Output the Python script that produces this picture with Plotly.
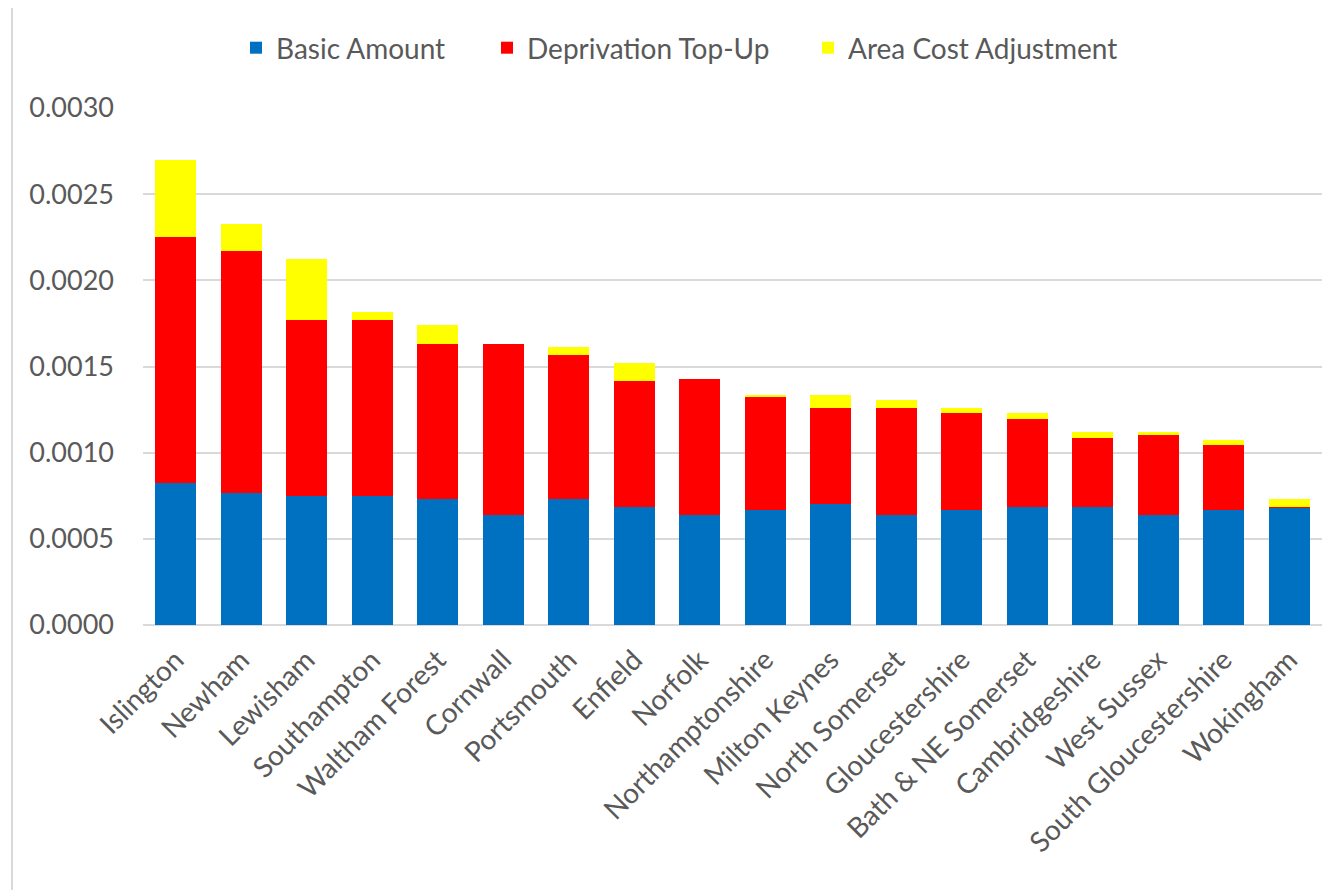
import plotly.graph_objects as go

categories = ["Islington", "Newham", "Lewisham", "Southampton", "Waltham Forest", "Cornwall",
              "Portsmouth", "Enfield", "Norfolk", "Northamptonshire", "Milton Keynes",
              "North Somerset", "Gloucestershire", "Bath & NE Somerset", "Cambridgeshire",
              "West Sussex", "South Gloucestershire", "Wokingham"]

basic_amount = [0.000825, 0.000764, 0.000746, 0.000746, 0.000733, 0.000638,
                0.000733, 0.000684, 0.000638, 0.000669, 0.000700,
                0.000638, 0.000669, 0.000684, 0.000684,
                0.000638, 0.000669, 0.000684]

deprivation_top_up = [0.001425, 0.001409, 0.001025, 0.001023, 0.000897, 0.000994,
                      0.000835, 0.000729, 0.000789, 0.000655, 0.000559,
                      0.000621, 0.000559, 0.000513, 0.000404,
                      0.000466, 0.000373, 0.000002]

area_cost_adjustment = [0.000447, 0.000153, 0.000354, 0.000046, 0.000108, 0.0,
                        0.000046, 0.000108, 0.0, 0.000012, 0.000077,
                        0.000046, 0.000031, 0.000031, 0.000031,
                        0.000015, 0.000031, 0.000045]

series_names = ["Basic Amount", "Deprivation Top-Up", "Area Cost Adjustment"]
colors = ["#0070C0", "#FF0000", "#FFFF00"]

y_ticks = [0.0, 0.0005, 0.0010, 0.0015, 0.0020, 0.0025, 0.0030]
y_tick_labels = ["0.0000", "0.0005", "0.0010", "0.0015", "0.0020", "0.0025", "0.0030"]

# page has an 8px body margin; figure coords = page coords - 8
OFF = 8
W, H = 1323, 882
L, R, T, B = 135, 9, 100, 265

pw = W - L - R
ph = H - T - B
def px2x(px):
    return (px - OFF - L) / pw
def py2y(py):
    return (H - B - (py - OFF)) / ph

legend_names = ["legend", "legend2", "legend3"]
legend_marker_px = [250, 501, 822]

fig = go.Figure()
for name, vals, col, lg in zip(series_names, [basic_amount, deprivation_top_up, area_cost_adjustment],
                               colors, legend_names):
    fig.add_trace(go.Bar(x=categories, y=vals, name=name, legend=lg,
                         marker=dict(color=col, line=dict(width=0))))

text_col = "#595959"
font_family = "Lato, 'Open Sans', sans-serif"

legend_layout = {}
for lg, mx in zip(legend_names, legend_marker_px):
    legend_layout[lg] = dict(orientation="h", x=px2x(mx - 14), xanchor="left",
                             y=py2y(48), yanchor="middle",
                             font=dict(size=28, color=text_col, family=font_family),
                             bgcolor="rgba(0,0,0,0)")

fig.update_layout(
    width=W, height=H,
    barmode="stack",
    bargap=0.37,
    margin=dict(l=L, r=R, t=T, b=B, autoexpand=False),
    paper_bgcolor="white", plot_bgcolor="white",
    font=dict(family=font_family, color=text_col, size=24),
    showlegend=True,
    xaxis=dict(tickangle=-45, showgrid=False, showline=False, ticks="",
               tickfont=dict(size=28, color=text_col), ticklabelstandoff=12),
    yaxis=dict(range=[0, 0.003], tickvals=y_ticks, ticktext=y_tick_labels,
               showgrid=True, gridcolor="#d9d9d9", gridwidth=2, zeroline=True,
               zerolinecolor="#d9d9d9", zerolinewidth=2, showline=False, ticks="",
               tickfont=dict(size=27, color=text_col), ticklabelstandoff=28),
    shapes=[
        dict(type="line", xref="paper", yref="paper", x0=px2x(11), x1=px2x(1331), y0=py2y(6), y1=py2y(6),
             line=dict(color="#d9d9d9", width=2)),
        dict(type="line", xref="paper", yref="paper", x0=px2x(12), x1=px2x(12), y0=py2y(6), y1=py2y(890),
             line=dict(color="#d9d9d9", width=2)),
    ],
    **legend_layout,
)

fig.write_html("out.html")
